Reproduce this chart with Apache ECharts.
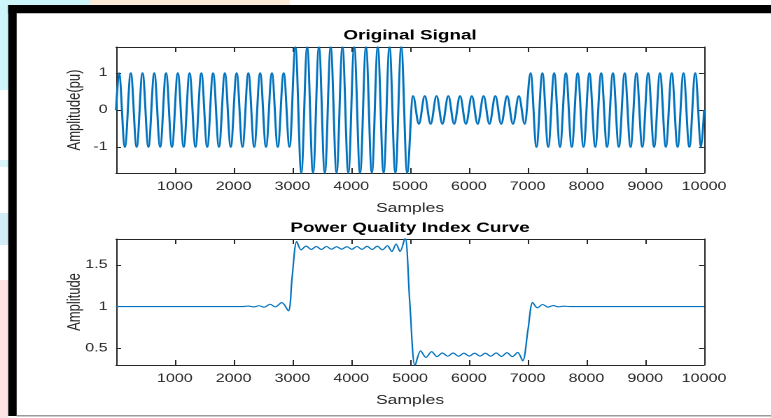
<!DOCTYPE html>
<html>
<head>
<meta charset="utf-8">
<script src="https://cdn.jsdelivr.net/npm/echarts@6/dist/echarts.min.js"></script>
<style>
html, body { margin: 0; padding: 0; background: #fff; overflow: hidden; }
/* the source figure is stretched sideways, so the chart is drawn narrow and widened */
#main { width: 553px; height: 418px; transform: scaleX(1.4); transform-origin: 0 0; }
</style>
</head>
<body>
<div id="main"></div>
<script>
// ---- original signal: sample positions of the extrema and their values ----
var sigX = [0,
  50,150,250,350,450,550,650,750,850,950,1050,1150,1250,1350,1450,1550,1650,1750,1850,1950,
  2050,2150,2250,2350,2450,2550,2650,2750,2850,2950,
  3050,3150,3250,3350,3450,3550,3650,3750,3850,3950,4050,4150,4250,4350,4450,4550,4650,4750,4850,4950,
  5050,5150,5250,5350,5450,5550,5650,5750,5850,5950,6050,6150,6250,6350,6450,6550,6650,6750,6850,6950,
  7050,7150,7250,7350,7450,7550,7650,7750,7850,7950,8050,8150,8250,8350,8450,8550,8650,8750,8850,8950,
  9050,9150,9250,9350,9450,9550,9650,9750,9850,9950,
  10000];
var sigY = [0,
  1,-1,1,-1,1,-1,1,-1,1,-1,1,-1,1,-1,1,-1,1,-1,1,-1,1,-1,1,-1,1,-1,1,-1,1,-1,
  1.7,-1.7,1.7,-1.7,1.7,-1.7,1.7,-1.7,1.7,-1.7,1.7,-1.7,1.7,-1.7,1.7,-1.7,1.7,-1.7,1.7,-1.7,
  0.38,-0.38,0.38,-0.38,0.38,-0.38,0.38,-0.38,0.38,-0.38,0.38,-0.38,0.38,-0.38,0.38,-0.38,0.38,-0.38,0.38,-0.38,
  1,-1,1,-1,1,-1,1,-1,1,-1,1,-1,1,-1,1,-1,1,-1,1,-1,1,-1,1,-1,1,-1,1,-1,1,-1,
  0];

// ---- power quality index curve: points ----
var pqX = [0, 2150, 2250, 2340, 2430, 2520, 2620, 2705, 2818, 2930, 2995, 3073,
  3146, 3232, 3319, 3405, 3492, 3578, 3664, 3751, 3837, 3924, 4010, 4096, 4183, 4269, 4356, 4442, 4528, 4615,
  4690, 4762, 4830, 4915, 4995, 5085, 5180, 5270,
  5366, 5458, 5549, 5641, 5732, 5824, 5915, 6007, 6098, 6190, 6281, 6373, 6464, 6556, 6647, 6739, 6830,
  6915, 7005, 7085, 7165, 7255, 7345, 7435, 7525, 7615, 7720, 10000];
var pqY = [1, 1, 1.006, 0.996, 1.01, 0.993, 1.028, 0.996, 1.048, 0.948, 1.36, 1.78,
  1.68, 1.725, 1.685, 1.72, 1.685, 1.72, 1.688, 1.718, 1.688, 1.718, 1.686, 1.72, 1.686, 1.722, 1.684, 1.724, 1.68, 1.73,
  1.66, 1.75, 1.66, 1.83, 1.05, 0.29, 0.47, 0.39,
  0.46, 0.40, 0.445, 0.405, 0.445, 0.405, 0.442, 0.407, 0.442, 0.407, 0.442, 0.405, 0.445, 0.403, 0.447, 0.40, 0.45,
  0.35, 0.72, 1.05, 0.985, 1.025, 0.993, 1.012, 0.997, 1.005, 1, 1];

var sigTicks = [-1, 0, 1];
var pqTicks = [0.5, 1, 1.5];

var axisColor = '#262626';
var lineColor = '#0072BD';
var font = 'Liberation Sans, Arial, sans-serif';

function pairs(xs, ys) {
	var out = [];
	for (var i = 0; i < xs.length; i++) out.push([xs[i], ys[i]]);
	return out;
}

function xAxisOf(grid, pos, labels) {
	return {
		type: 'value', gridIndex: grid, position: pos, min: 0, max: 10000, interval: 1000,
		axisLine: { show: true, onZero: false, lineStyle: { color: axisColor, width: 1 } },
		axisTick: { show: true, inside: true, length: 5, lineStyle: { color: axisColor } },
		axisLabel: { show: labels, showMinLabel: false, margin: 8, color: axisColor, fontSize: 11.5, fontFamily: font,
			formatter: function (v) { return String(v); } },
		splitLine: { show: false },
		name: labels ? 'Samples' : '', nameLocation: 'middle', nameGap: 29,
		nameTextStyle: { color: axisColor, fontSize: 12.5, fontFamily: font }
	};
}

function yAxisOf(grid, pos, min, max, ticks, name) {
	return {
		type: 'value', gridIndex: grid, position: pos, min: min, max: max,
		axisLine: { show: true, onZero: false, lineStyle: { color: axisColor, width: 1 } },
		axisTick: { show: true, inside: true, length: 3.6, customValues: ticks, lineStyle: { color: axisColor } },
		axisLabel: { show: !!name, customValues: ticks, margin: 6, color: axisColor, fontSize: 11.5, fontFamily: font },
		splitLine: { show: false },
		name: name || '', nameLocation: 'middle', nameGap: 23, nameMoveOverlap: false,
		nameTextStyle: { color: axisColor, fontSize: 13, fontFamily: font }
	};
}

var chart = echarts.init(document.getElementById('main'), null, { devicePixelRatio: 2 });

var option = {
	animation: false,
	backgroundColor: '#fff',
	grid: [
		{ left: 82.9, top: 47, width: 420, height: 126 },
		{ left: 82.9, top: 239, width: 420, height: 126 }
	],
	xAxis: [
		xAxisOf(0, 'bottom', true),
		xAxisOf(0, 'top', false),
		xAxisOf(1, 'bottom', true),
		xAxisOf(1, 'top', false)
	],
	yAxis: [
		yAxisOf(0, 'left', -1.7, 1.7, sigTicks, 'Amplitude(pu)'),
		yAxisOf(0, 'right', -1.7, 1.7, sigTicks, null),
		yAxisOf(1, 'left', 0.3, 1.81, pqTicks, 'Amplitude'),
		yAxisOf(1, 'right', 0.3, 1.81, pqTicks, null)
	],
	graphic: [
		// page bits around the figure
		{ type: 'rect', shape: { x: 0, y: 0, width: 64, height: 5 }, style: { fill: '#cdf6fa' } },
		{ type: 'rect', shape: { x: 64, y: 0, width: 143, height: 5 }, style: { fill: '#fdebd9' } },
		{ type: 'rect', shape: { x: 0, y: 0, width: 6, height: 90 }, style: { fill: '#cdf6fa' } },
		{ type: 'rect', shape: { x: 0, y: 160, width: 6, height: 7 }, style: { fill: '#d9f5fa' } },
		{ type: 'rect', shape: { x: 0, y: 213, width: 6, height: 32 }, style: { fill: '#d3ecf7' } },
		{ type: 'rect', shape: { x: 0, y: 280, width: 6, height: 138 }, style: { fill: '#fde3e3' } },
		{ type: 'rect', shape: { x: 5.8, y: 5, width: 548, height: 8.3 }, style: { fill: '#000' } },
		{ type: 'rect', shape: { x: 5.9, y: 5, width: 6, height: 411 }, style: { fill: '#000' } },
		{ type: 'rect', shape: { x: 11.9, y: 415, width: 542, height: 1.5 }, style: { fill: '#9a9a9a' } },
		// titles
		{ type: 'text', x: 292.9, y: 29, style: { text: 'Original Signal', align: 'center', verticalAlign: 'top',
			fill: '#000', font: 'bold 13.5px ' + font } },
		{ type: 'text', x: 292.9, y: 221.5, style: { text: 'Power Quality Index Curve', align: 'center', verticalAlign: 'top',
			fill: '#000', font: 'bold 13.5px ' + font } }
	],
	series: [
		{
			type: 'line', xAxisIndex: 0, yAxisIndex: 0,
			data: pairs(sigX, sigY),
			showSymbol: false, smooth: 0.36, smoothMonotone: 'x',
			lineStyle: { color: lineColor, width: 1.5 }
		},
		{
			type: 'line', xAxisIndex: 2, yAxisIndex: 2,
			data: pairs(pqX, pqY),
			showSymbol: false, smooth: 0.3,
			lineStyle: { color: lineColor, width: 1.1 }
		}
	]
};

chart.setOption(option);
</script>
</body>
</html>
